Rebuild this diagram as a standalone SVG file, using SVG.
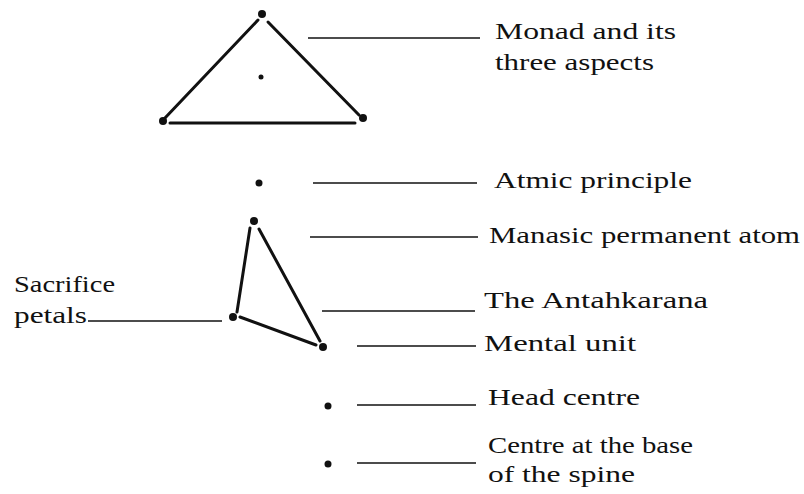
<svg xmlns="http://www.w3.org/2000/svg" width="804" height="494" viewBox="0 0 804 494">
<style>
text{font-family:"Liberation Serif","DejaVu Serif",serif;font-size:24px;fill:#111}
.e{stroke:#111;stroke-width:3;fill:none;stroke-linecap:round}
.l{stroke:#111;stroke-width:1.6;fill:none}
.d{fill:#111}
</style>
<rect width="804" height="494" fill="#fff"/>
<g id="connectors">
<path class="e" d="M258,20 L165,118"/>
<path class="e" d="M268,22 L359,115"/>
<path class="e" d="M170,123 L355,123"/>
<path class="e" d="M250,228 L237,312"/>
<path class="e" d="M259,229 L320,341"/>
<path class="e" d="M240,317 L316,345"/>
<path class="l" d="M308,38 H480"/>
<path class="l" d="M313,183 H477"/>
<path class="l" d="M310,237 H478"/>
<path class="l" d="M322,311 H475"/>
<path class="l" d="M357,346 H476"/>
<path class="l" d="M88,321 H222"/>
<path class="l" d="M357,405 H476"/>
<path class="l" d="M357,463 H476"/>
</g>
<g id="monad"><circle class="d" cx="262" cy="14" r="4"/><circle class="d" cx="163" cy="121" r="4"/><circle class="d" cx="363" cy="118" r="4"/><circle class="d" cx="261" cy="77" r="2.5"/>
<text x="495" y="39" textLength="181" lengthAdjust="spacingAndGlyphs">Monad and its</text><text x="495" y="70" textLength="159" lengthAdjust="spacingAndGlyphs">three aspects</text></g>
<g id="atmic"><circle class="d" cx="259" cy="183" r="3.5"/><text x="494" y="188" textLength="198" lengthAdjust="spacingAndGlyphs">Atmic principle</text></g>
<g id="manasic"><circle class="d" cx="254" cy="221" r="4"/><text x="489" y="243" textLength="311" lengthAdjust="spacingAndGlyphs">Manasic permanent atom</text></g>
<g id="antahkarana"><text x="484" y="308" textLength="224" lengthAdjust="spacingAndGlyphs">The Antahkarana</text></g>
<g id="petals"><circle class="d" cx="233" cy="317" r="4"/><text x="14" y="292" textLength="101" lengthAdjust="spacingAndGlyphs">Sacrifice</text><text x="14" y="323" textLength="73" lengthAdjust="spacingAndGlyphs">petals</text></g>
<g id="mental"><circle class="d" cx="323" cy="347" r="4"/><text x="484" y="351" textLength="152" lengthAdjust="spacingAndGlyphs">Mental unit</text></g>
<g id="head"><circle class="d" cx="328" cy="406" r="3.5"/><text x="488" y="405" textLength="152" lengthAdjust="spacingAndGlyphs">Head centre</text></g>
<g id="base"><circle class="d" cx="328" cy="464" r="3.5"/><text x="488" y="453" textLength="205" lengthAdjust="spacingAndGlyphs">Centre at the base</text><text x="488" y="482" textLength="147" lengthAdjust="spacingAndGlyphs">of the spine</text></g>
</svg>
